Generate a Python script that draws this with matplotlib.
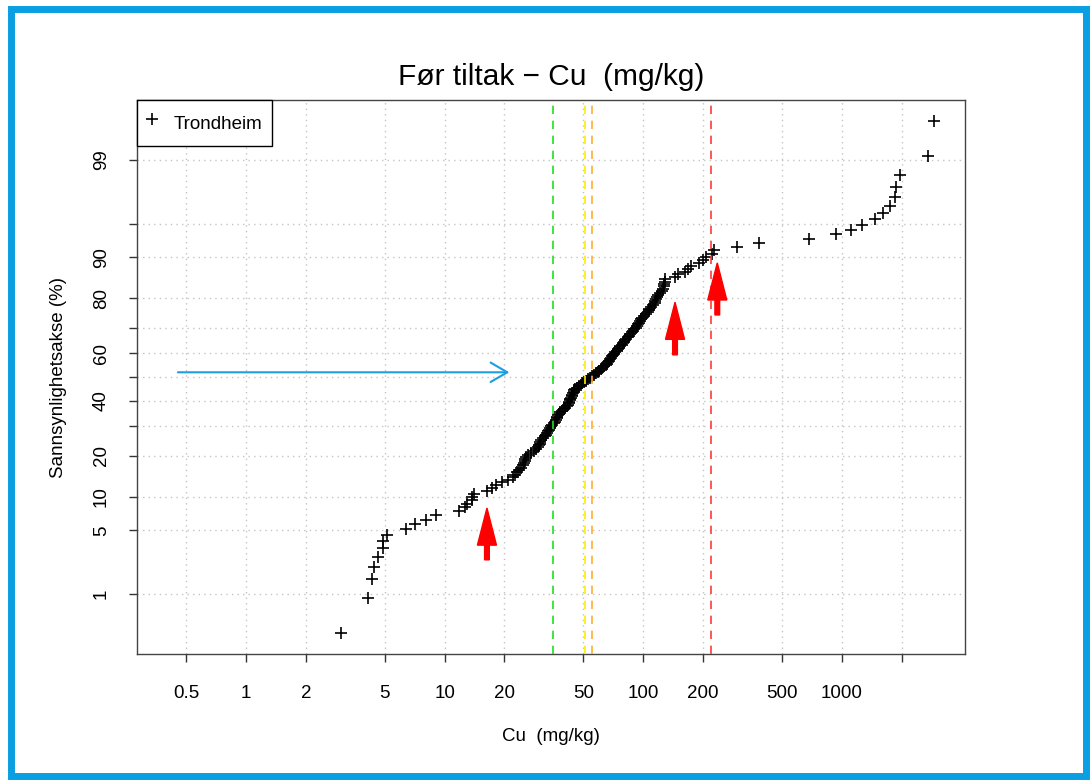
import numpy as np
import matplotlib.pyplot as plt
from matplotlib.patches import FancyArrow, Rectangle
from matplotlib.ticker import NullLocator
from statistics import NormalDist

plt.rcParams['font.family'] = ['Liberation Sans', 'DejaVu Sans']

# Cu-verdier (mg/kg), sortert
cu_low = [3.0, 4.1, 4.3, 4.4, 4.6, 4.9, 4.9, 5.1, 6.4, 7.1, 8.1, 9.1,
          11.8, 12.6, 12.9, 13.8, 13.8, 14.0, 16.4, 17.4, 18.1, 19.5, 20.9]
cu_mid = [22.0, 22.6, 23.2, 23.8, 24.3, 24.7, 25.1, 25.4, 25.5, 25.8, 26.2,
          27.2, 28.3, 29.0, 29.4, 29.9, 30.1, 30.3, 30.6, 31.3, 31.9, 32.4,
          32.8, 33.2, 33.6, 34.0, 34.4, 34.9, 35.4, 35.9, 36.4, 36.6, 37.0,
          37.3, 37.6, 38.1, 39.0, 39.7, 40.5, 41.1, 41.8, 42.1, 42.4, 42.7,
          43.0, 43.3, 43.6, 44.0, 44.3, 44.6, 44.9, 45.6, 46.6, 47.5, 48.4,
          49.4, 50.5, 51.5, 52.7, 53.9, 55.2, 56.4, 57.7, 58.9, 60.0, 61.1,
          62.2, 63.4, 64.6, 65.9, 66.8, 67.6, 68.2, 69.0, 69.8, 70.6, 71.3,
          72.3, 73.5, 74.5, 75.5, 76.6, 77.8, 78.9, 80.0, 81.1, 82.2, 83.6,
          84.9, 86.1, 87.3, 88.7, 90.2, 91.6, 93.1, 94.4, 95.3, 96.2, 97.0,
          98.4, 100.5, 102.8, 105.2, 106.4, 107.4, 109.1, 111.6, 114.0, 115.1,
          115.9, 117.0, 118.6, 121, 124, 126, 127, 127.5, 128, 129]
cu_high = [144, 150, 162, 168, 175, 192, 200, 208, 222, 228, 298, 382,
           683, 935, 1110, 1262, 1462, 1610, 1754, 1845, 1881, 1956, 2710, 2904]

# klassegrenser (tilstandsklasser) for Cu
limits = [35, 51, 55, 220]
limit_colors = ['#1ee01e', '#ffee00', '#ffab33', '#ff3b3b']

x_ticks = [0.5, 1, 2, 5, 10, 20, 50, 100, 200, 500, 1000, 2000]
x_labels = ['0.5', '1', '2', '5', '10', '20', '50', '100', '200', '500', '1000', '']
y_ticks = [1, 5, 10, 20, 30, 40, 50, 60, 70, 80, 90, 95, 99]
y_labels = ['1', '5', '10', '20', '', '40', '', '60', '', '80', '90', '', '99']

cu = np.array(cu_low + cu_mid + cu_high)
n = len(cu)
prob = (np.arange(1, n + 1) - 0.5) / n * 100   # ppoints

nd = NormalDist()
_ppf = np.vectorize(nd.inv_cdf, otypes=[float])
_cdf = np.vectorize(nd.cdf, otypes=[float])


def forward(p):
    p = np.clip(np.asarray(p, dtype=float) / 100, 1e-9, 1 - 1e-9)
    return _ppf(p)


def inverse(z):
    return _cdf(np.asarray(z, dtype=float)) * 100


fig = plt.figure(figsize=(10.91, 7.80), dpi=100)
ax = fig.add_axes([136.5 / 1091, 1 - 654 / 780, 828.5 / 1091, 554 / 780])
ax.set_xscale('log')
ax.set_yscale('function', functions=(forward, inverse))
ax.set_xlim(0.281, 4170)
ax.set_ylim(float(inverse(-2.969)), float(inverse(2.969)))

ax.set_xticks(x_ticks)
ax.set_xticklabels(x_labels)
ax.set_yticks(y_ticks)
ax.set_yticklabels(y_labels)
ax.xaxis.set_minor_locator(NullLocator())
ax.yaxis.set_minor_locator(NullLocator())
ax.tick_params(length=6, width=1, pad=16, labelsize=13.5, color='#333333')
ax.tick_params(axis='y', labelrotation=90, pad=13)
for lab in ax.get_yticklabels():
    lab.set_va('center')

ax.grid(True, color='#c4c4c4', linestyle=(0, (1, 3)), linewidth=1)
ax.set_axisbelow(True)
for s in ax.spines.values():
    s.set_color('#444444')
    s.set_linewidth(1)

ax.plot(cu, prob, '+', color='black', markersize=9, mew=1.2,
        label='Trondheim', zorder=3)
for v, c in zip(limits, limit_colors):
    ax.axvline(v, color=c, lw=1.2, dashes=(5, 4), zorder=4)

leg = ax.legend(loc='upper left', borderaxespad=0, fancybox=False,
                edgecolor='black', framealpha=1, fontsize=13.5,
                handlelength=0.6, handleheight=1.85, handletextpad=0.9,
                borderpad=0.5)
leg.get_frame().set_linewidth(1)

ax.set_title('Før tiltak − Cu  (mg/kg)', fontsize=21.5, pad=11)
ax.set_xlabel('Cu  (mg/kg)', fontsize=13.5)
ax.xaxis.set_label_coords(0.5, -0.1336)
ax.set_ylabel('Sannsynlighetsakse (%)', fontsize=13.5)
ax.yaxis.set_label_coords(-0.084, 0.5)

# røde piler (x, spiss, bunn) i aksebrøk
for x, tip, base in [(0.423, 0.2635, 0.170), (0.650, 0.635, 0.540),
                     (0.701, 0.706, 0.612)]:
    ax.add_patch(FancyArrow(x, base, 0, tip - base, width=0.0057,
                            head_width=0.023, head_length=0.067,
                            length_includes_head=True, color='red',
                            transform=ax.transAxes, clip_on=False, zorder=5))

# blå pil
ax.annotate('', xy=(0.450, 0.5085), xytext=(0.050, 0.5085),
            xycoords='axes fraction',
            arrowprops=dict(arrowstyle='->,head_length=1.2,head_width=0.7',
                            color='#1c9ee0', lw=1.5, shrinkA=0, shrinkB=0))

# blå ramme rundt bildet
fig.patches.append(Rectangle((11.5 / 1091, 1 - 776 / 780), (1086 - 11.5) / 1091,
                             (776 - 9) / 780, transform=fig.transFigure,
                             fill=False, edgecolor='#0a9fe2', linewidth=5))

fig.savefig('out.png', dpi=100)
